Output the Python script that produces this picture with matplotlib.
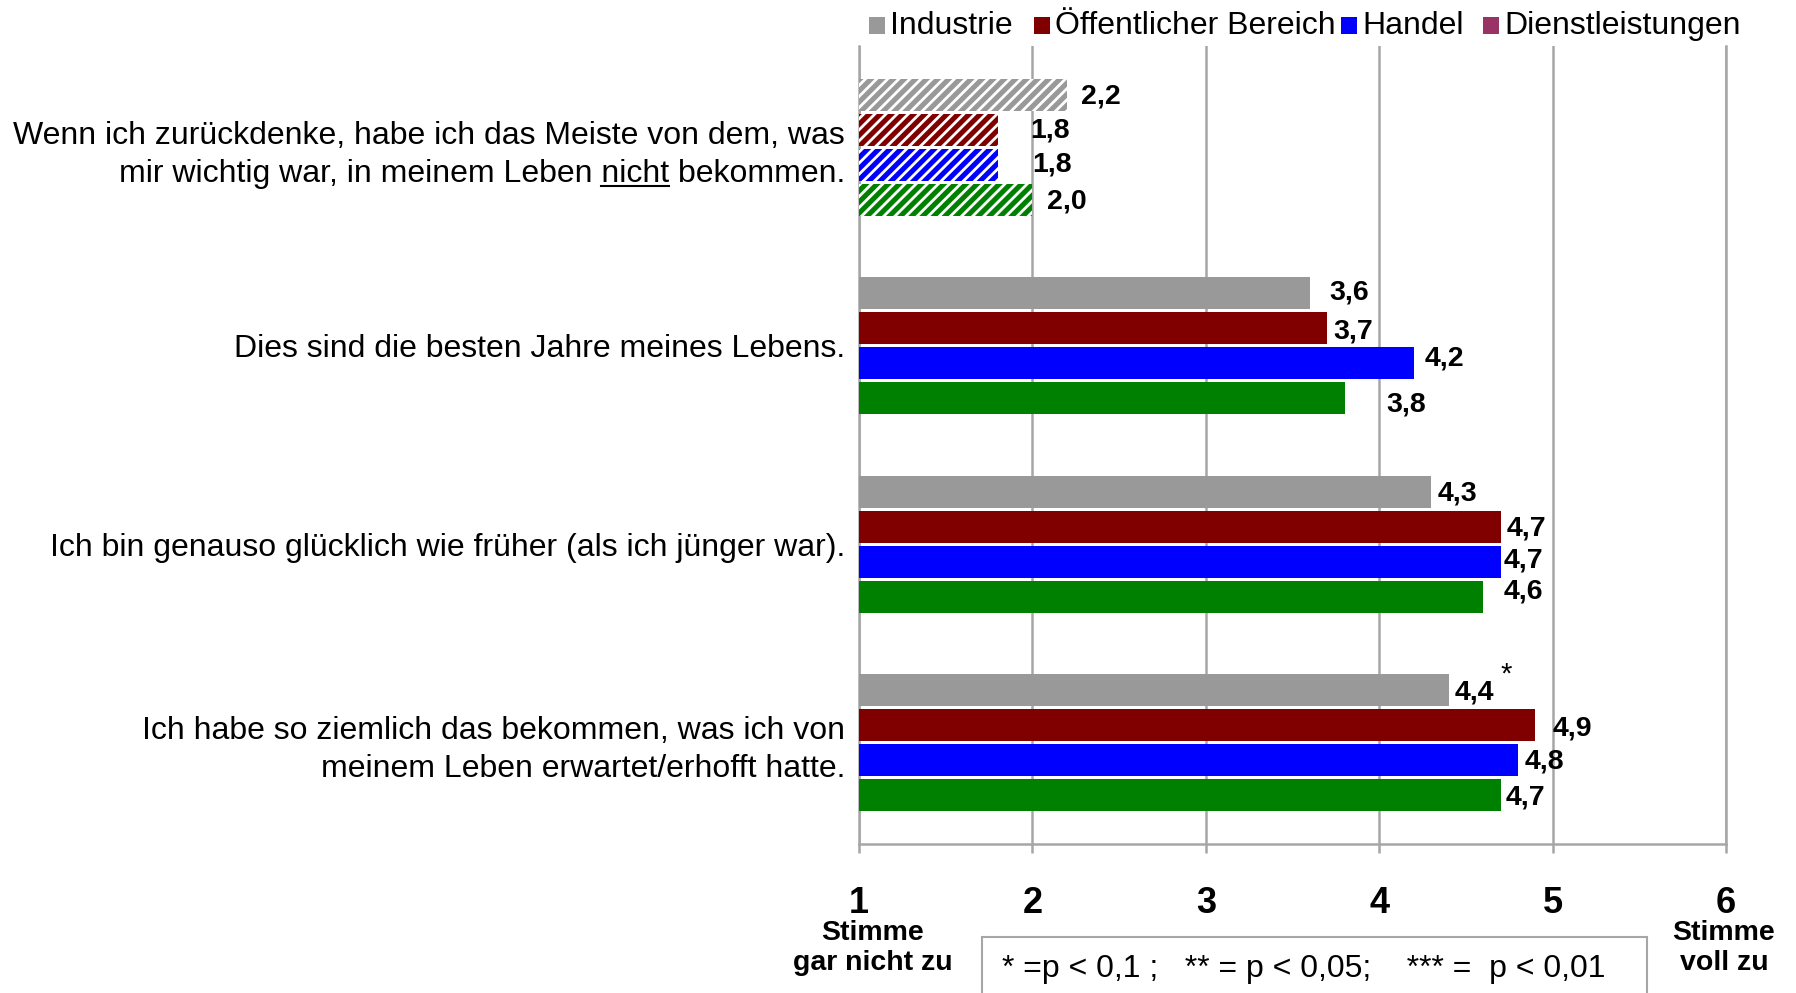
import matplotlib
matplotlib.use("Agg")
import matplotlib.pyplot as plt
from matplotlib.patches import Rectangle
from matplotlib.lines import Line2D

plt.rcParams['font.family'] = ['Liberation Sans', 'DejaVu Sans']
plt.rcParams['hatch.linewidth'] = 2.0

statements = [
    "Wenn ich zurückdenke, habe ich das Meiste von dem, was\nmir wichtig war, in meinem Leben nicht bekommen.",
    "Dies sind die besten Jahre meines Lebens.",
    "Ich bin genauso glücklich wie früher (als ich jünger war).",
    "Ich habe so ziemlich das bekommen, was ich von\nmeinem Leben erwartet/erhofft hatte.",
]
sectors = ["Industrie", "Öffentlicher Bereich", "Handel", "Dienstleistungen"]
industrie = [2.2, 3.6, 4.3, 4.4]
oeffentlich = [1.8, 3.7, 4.7, 4.9]
handel = [1.8, 4.2, 4.7, 4.8]
dienstleistungen = [2.0, 3.8, 4.6, 4.7]
stars = ["", "", "", "*"]  # significance marks on the Industrie bar
xtick_vals = [1, 2, 3, 4, 5, 6]

series = [industrie, oeffentlich, handel, dienstleistungen]
bar_colors = ['#999999', '#800000', '#0000ff', '#008000']
legend_colors = ['#999999', '#800000', '#0000ff', '#993366']

# label offsets (pixels, right / down) per sector and statement
label_dx = [[34, 39, 26, 26], [52, 26, 26, 37], [54, 31, 23, 27], [34, 62, 40, 25]]
label_dy = [[2, -1, 2, 2], [1, 3, 2, 3], [0, -5, -1, 1], [2, 6, -5, 2]]

W, H = 1796, 993
fig = plt.figure(figsize=(W / 100, H / 100), dpi=100)
ax = fig.add_axes([859 / W, 1 - 844 / H, (1726 - 859) / W, (844 - 46) / H])

pitch = 0.176
height = 0.161
grid_c = '#a6a6a6'

for k, vals in enumerate(series):
    for g, v in enumerate(vals):
        y = g + (k - 1.5) * pitch
        hatch = '///' if g == 0 else None
        ax.barh(y, v - 1, left=1, height=height, color=bar_colors[k],
                hatch=hatch, edgecolor='white' if hatch else bar_colors[k],
                linewidth=0, zorder=3)
        ax.annotate(f"{v:.1f}".replace('.', ','), xy=(v, y),
                    xytext=(label_dx[k][g], -label_dy[k][g]), textcoords='offset pixels',
                    ha='center', va='center', fontsize=20.5, fontweight='bold', zorder=4)
        if k == 0 and stars[g]:
            ax.annotate(stars[g], xy=(v, y), xytext=(58, 16), textcoords='offset pixels',
                        ha='center', va='center', fontsize=21, zorder=4)

ax.set_xlim(1, 6)
ax.set_ylim(3.51, -0.51)
ax.set_xticks(xtick_vals)
ax.set_xticklabels([str(t) for t in xtick_vals], fontsize=26, fontweight='bold')
ax.set_yticks(range(len(statements)))
ax.set_yticklabels(statements, fontsize=23, linespacing=1.35)
ax.tick_params(axis='y', length=0, pad=10)
ax.tick_params(axis='x', direction='out', length=6.5, width=1.8, color=grid_c, pad=24)
ax.xaxis.grid(True, color=grid_c, linewidth=1.8, zorder=0)
ax.set_axisbelow(True)
ax.spines['top'].set_visible(False)
for side in ['left', 'right', 'bottom']:
    ax.spines[side].set_color(grid_c)
    ax.spines[side].set_linewidth(1.8)

# scale end captions
fig.text(873 / W, 1 - 948 / H, "Stimme\ngar nicht zu", ha='center', va='center',
         fontsize=20.5, fontweight='bold', linespacing=1.2)
fig.text(1724 / W, 1 - 948 / H, "Stimme\nvoll zu", ha='center', va='center',
         fontsize=20.5, fontweight='bold', linespacing=1.2)

# footnote box
fig.patches.append(Rectangle((982 / W, -0.05), (1647 - 982) / W, 0.05 + 1 - 937 / H,
                             transform=fig.transFigure, facecolor='white',
                             edgecolor=grid_c, linewidth=1.5))
fig.text(1002 / W, 1 - 969 / H, "* =p < 0,1 ;   ** = p < 0,05;    *** =  p < 0,01",
         ha='left', va='center', fontsize=23)

# legend across the top
legend_x = [869, 1034, 1341, 1483]
for name, c, x in zip(sectors, legend_colors, legend_x):
    fig.patches.append(Rectangle((x / W, 1 - 34 / H), 16 / W, 17 / H,
                                 transform=fig.transFigure, facecolor=c, edgecolor='none'))
    fig.text((x + 21) / W, 1 - 26 / H, name, ha='left', va='center', fontsize=23)

# underline "nicht" in the first statement
fig.canvas.draw()
renderer = fig.canvas.get_renderer()
lab = ax.get_yticklabels()[0]
bb = lab.get_window_extent(renderer)
fp = lab.get_fontproperties()
w_tail = renderer.get_text_width_height_descent(" bekommen.", fp, ismath=False)[0]
w_word = renderer.get_text_width_height_descent("nicht bekommen.", fp, ismath=False)[0]
x_end, x_start = bb.x1 - w_tail, bb.x1 - w_word
y_line = bb.y0 + 3
inv = fig.transFigure.inverted()
(fx0, fy), (fx1, _) = inv.transform([(x_start, y_line), (x_end, y_line)])
fig.add_artist(Line2D([fx0, fx1], [fy, fy], transform=fig.transFigure, color='black', linewidth=1.5))

fig.savefig("out.png", dpi=100)
